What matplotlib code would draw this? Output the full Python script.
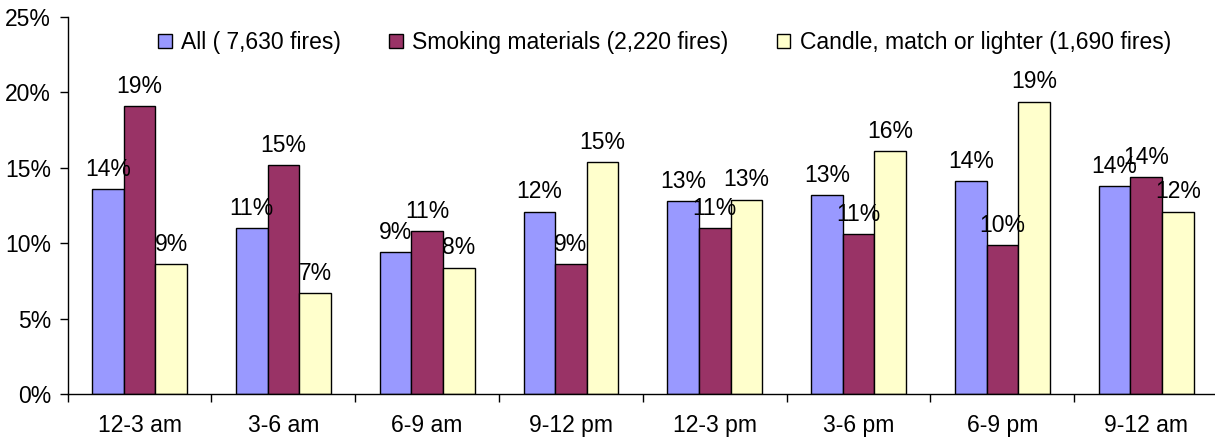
import numpy as np
import matplotlib
matplotlib.use("Agg")
import matplotlib.pyplot as plt
from matplotlib.ticker import FuncFormatter, FixedLocator

plt.rcParams['font.family'] = ['Liberation Sans', 'DejaVu Sans']

# Share of home fires by time of day, per heat source
periods = ["12-3 am", "3-6 am", "6-9 am", "9-12 pm",
           "12-3 pm", "3-6 pm", "6-9 pm", "9-12 am"]
all_fires = [13.6, 11.0, 9.4, 12.1, 12.8, 13.2, 14.1, 13.8]
smoking = [19.1, 15.2, 10.8, 8.6, 11.0, 10.6, 9.9, 14.4]
candle = [8.6, 6.7, 8.4, 15.4, 12.9, 16.1, 19.4, 12.1]

series_names = ["All ( 7,630 fires)",
                "Smoking materials (2,220 fires)",
                "Candle, match or lighter (1,690 fires)"]
colors = ["#9999FF", "#993366", "#FFFFCC"]
fs = 16.5

fig = plt.figure(figsize=(12.15, 4.38), dpi=100)
ax = fig.add_axes([0.0557, 0.0998, 0.9468, 0.8614])

x = np.arange(len(periods))
width = 0.22
handles = []
for i, (vals, name, col) in enumerate(zip([all_fires, smoking, candle], series_names, colors)):
    pos = x + (i - 1) * width
    bars = ax.bar(pos, vals, width, color=col, edgecolor="black",
                  linewidth=1.0, label=name)
    handles.append(bars)
    for xp, v in zip(pos, vals):
        ax.annotate("%.0f%%" % v, (xp, v), xytext=(0, 6),
                    textcoords="offset points", ha="center", va="bottom",
                    fontsize=fs)

ax.set_xlim(-0.5, len(periods) - 0.5)
ax.set_ylim(0, 25)
ax.set_yticks(np.arange(0, 26, 5))
ax.yaxis.set_major_formatter(FuncFormatter(lambda v, p: "%d%%" % v))
ax.tick_params(axis="y", direction="out", length=6, width=1, labelsize=fs, pad=6)

# category labels at centers, separator ticks between groups
ax.set_xticks(x)
ax.set_xticklabels(periods)
ax.xaxis.set_minor_locator(FixedLocator(np.arange(-0.5, len(periods), 1.0)))
ax.tick_params(axis="x", which="major", length=0, labelsize=fs, pad=14)
ax.tick_params(axis="x", which="minor", direction="out", length=6, width=1)

for s in ["top", "right"]:
    ax.spines[s].set_visible(False)
for s in ["left", "bottom"]:
    ax.spines[s].set_linewidth(1.0)

fig.legend(handles=handles, loc="center", bbox_to_anchor=(0.547, 0.903),
           ncol=3, frameon=False, fontsize=fs, handlelength=0.6,
           handleheight=0.6, handletextpad=0.4, columnspacing=2.1)

fig.savefig("out.png", dpi=100)
